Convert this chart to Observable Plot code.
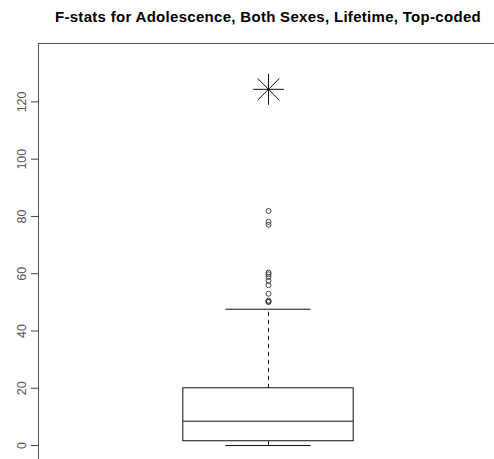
<!DOCTYPE html>
<html>
<head>
<meta charset="utf-8">
<script src="https://cdn.jsdelivr.net/npm/d3@7"></script>
<script src="https://cdn.jsdelivr.net/npm/@observablehq/plot@0.6"></script>
<style>
  html, body { margin: 0; padding: 0; background: #fff; overflow: hidden; }
  #wrap { position: relative; width: 494px; height: 459px; }
  #title {
    position: absolute; left: 38px; width: 460px; top: 8px;
    line-height: 15px; text-align: center; white-space: nowrap;
    font: bold 15px "Liberation Sans", Arial, sans-serif; letter-spacing: 0.3px; color: #000;
  }
  #chart { position: absolute; left: 0; top: 42px; }
</style>
</head>
<body>
<div id="wrap">
  <div id="title"></div>
  <div id="chart"></div>
</div>
<script>
const title = "F-stats for Adolescence, Both Sexes, Lifetime, Top-coded";

// Box-and-whisker summary of the F statistics
const lowerWhisker = 0;
const q1 = 1.5;
const median = 8.5;
const q3 = 20.0;
const upperWhisker = 47.6;

// Points beyond the upper whisker
const outliers = [50.1, 50.3, 50.6, 53.0, 56.0, 57.5, 58.9, 59.8, 60.4, 77.1, 78.1, 81.9];

// The single top-coded statistic, drawn as a large asterisk
const topCoded = [124.4];

const yTicks = [0, 20, 40, 60, 80, 100, 120];
const yLimits = [0, 135];

// Box position and widths, in x-scale units
const boxPos = 1;
const boxHalf = 0.2;
const capHalf = 0.1;

// Axis limits padded by 4% on each side
const pad = (lo, hi) => [lo - 0.04 * (hi - lo), hi + 0.04 * (hi - lo)];
const xDomain = pad(0.5, 1.5);
const yDomain = pad(yLimits[0], yLimits[1]);

document.getElementById("title").textContent = title;

const ink = "#111";

const chart = Plot.plot({
  width: 494,
  height: 417,
  marginLeft: 38,
  marginRight: 0,
  marginTop: 1,
  marginBottom: 0,
  style: { fontFamily: "'Liberation Sans', Arial, sans-serif", fontSize: "12px", background: "#fff", color: "#444" },
  x: { type: "linear", domain: xDomain, range: [38, 498], axis: null },
  y: { domain: yDomain, range: [418.5, 1], axis: null },
  marks: [
    // plot frame (top and left edges; the rest falls outside the view)
    Plot.ruleY([yDomain[1]], { x1: xDomain[0], x2: xDomain[1], stroke: "#555" }),
    Plot.ruleX([xDomain[0]], { y1: yDomain[0], y2: yDomain[1], stroke: "#555" }),

    Plot.axisY(yTicks, {
      anchor: "left",
      tickSize: 7,
      tickPadding: 6,
      tickRotate: -90,
      fontSize: 12.5,
      stroke: "#444",
      fill: "#555",
      label: null
    }),

    // whiskers
    Plot.ruleX([boxPos], { y1: q3, y2: upperWhisker, stroke: ink, strokeDasharray: "4,4" }),
    Plot.ruleX([boxPos], { y1: lowerWhisker, y2: q1, stroke: ink, strokeDasharray: "4,4" }),
    Plot.ruleY([lowerWhisker, upperWhisker], { x1: boxPos - capHalf, x2: boxPos + capHalf, stroke: ink }),

    // box and median
    Plot.rect([{ q1, q3 }], {
      x1: boxPos - boxHalf, x2: boxPos + boxHalf,
      y1: "q1", y2: "q3",
      fill: "none", stroke: ink
    }),
    Plot.ruleY([median], { x1: boxPos - boxHalf, x2: boxPos + boxHalf, stroke: ink }),

    // outliers
    Plot.dot(outliers, { x: boxPos, y: d => d, r: 2.5, stroke: "#333", strokeWidth: 0.9, fill: "none" }),

    // top-coded value: plus and times overlaid
    Plot.dot(topCoded, { x: boxPos, y: d => d, symbol: "plus", r: 10, stroke: ink, strokeWidth: 1 }),
    Plot.dot(topCoded, { x: boxPos, y: d => d, symbol: "times", r: 10, stroke: ink, strokeWidth: 1 })
  ]
});

document.getElementById("chart").appendChild(chart);
</script>
</body>
</html>
